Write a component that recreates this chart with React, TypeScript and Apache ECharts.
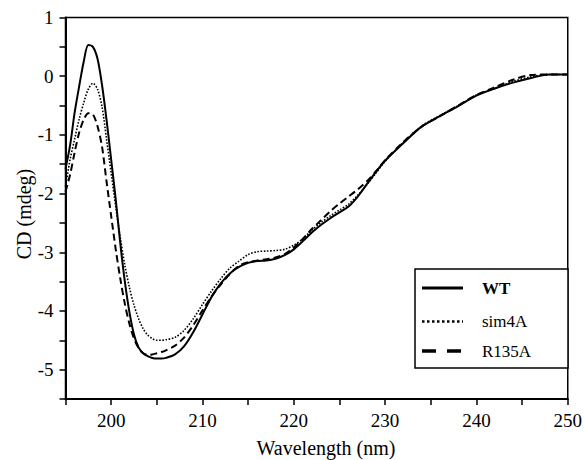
import React, { useEffect, useRef } from "react";
import * as echarts from "echarts";

const wavelengths = [
  195, 195.5, 196, 196.5, 197, 197.5, 198, 198.5, 199, 199.5, 200, 200.5, 201, 201.5,
  202, 202.5, 203, 203.5, 204, 204.5, 205, 205.5, 206, 207, 208, 209, 210, 211, 212,
  213, 214, 215, 216, 217, 218, 219, 220, 221, 222, 223, 224, 225, 226, 227, 228, 229,
  230, 232, 234, 236, 238, 240, 242, 244, 246, 248, 250,
];

const wtValues = [
  -1.58, -1.18, -0.62, -0.17, 0.25, 0.53, 0.5, 0.3, -0.15, -0.75, -1.42, -2.1, -2.85, -3.5,
  -4.02, -4.4, -4.62, -4.72, -4.77, -4.8, -4.81, -4.81, -4.8, -4.74, -4.6, -4.36, -4.06, -3.76, -3.53,
  -3.36, -3.25, -3.18, -3.15, -3.14, -3.11, -3.05, -2.95, -2.81, -2.66, -2.53, -2.42, -2.32, -2.22, -2.05, -1.84, -1.63,
  -1.44, -1.14, -0.86, -0.68, -0.51, -0.33, -0.21, -0.11, -0.03, 0.03, 0.03,
];

const sim4aValues = [
  -1.88, -1.42, -1.07, -0.73, -0.45, -0.22, -0.12, -0.22, -0.52, -1.08, -1.65, -2.22, -2.75, -3.22,
  -3.6, -3.9, -4.13, -4.3, -4.41, -4.47, -4.5, -4.5, -4.49, -4.45, -4.33, -4.13, -3.89, -3.66, -3.45,
  -3.27, -3.15, -3.04, -2.99, -2.98, -2.97, -2.95, -2.88, -2.77, -2.62, -2.49, -2.38, -2.28, -2.18, -2.03, -1.85, -1.65,
  -1.45, -1.13, -0.85, -0.67, -0.5, -0.32, -0.21, -0.09, -0.01, 0.03, 0.03,
];

const r135aValues = [
  -1.97, -1.68, -1.3, -0.96, -0.74, -0.63, -0.65, -0.85, -1.2, -1.8, -2.38, -2.95, -3.45, -3.88,
  -4.22, -4.47, -4.63, -4.72, -4.75, -4.74, -4.72, -4.7, -4.67, -4.59, -4.45, -4.24, -3.99, -3.75, -3.55,
  -3.37, -3.23, -3.17, -3.14, -3.12, -3.09, -3.03, -2.92, -2.77, -2.6, -2.45, -2.3, -2.17, -2.05, -1.93, -1.79, -1.62,
  -1.43, -1.12, -0.86, -0.68, -0.5, -0.32, -0.19, -0.06, 0.02, 0.03, 0.03,
];

const seriesNames = ["WT", "sim4A", "R135A"];
const xTitle = "Wavelength (nm)";
const yTitle = "CD (mdeg)";

export default function App() {
  const ref = useRef<HTMLDivElement>(null);

  useEffect(() => {
    if (!ref.current) return;
    const chart = echarts.init(ref.current, null, { renderer: "svg" });
    const font = "Liberation Serif";
    const toPairs = (vals: number[]) => wavelengths.map((w, i) => [w, vals[i]]);

    const legendRows = [
      { name: seriesNames[0], y: 288, dash: null as number[] | null, width: 3, weight: "bold" },
      { name: seriesNames[1], y: 321.5, dash: [2.5, 2.5], width: 2.5, weight: "normal" },
      { name: seriesNames[2], y: 351, dash: [14, 11], width: 3.5, weight: "normal" },
    ];

    const graphic: any[] = [
      {
        type: "rect",
        shape: { x: 415, y: 269, width: 153, height: 99 },
        style: { fill: "#fff", stroke: "#000", lineWidth: 1.5 },
        z: 100,
      },
      {
        type: "text",
        x: 326,
        y: 448,
        style: {
          text: xTitle,
          fontSize: 20,
          fontFamily: font,
          fill: "#000",
          align: "center",
          verticalAlign: "middle",
        },
      },
      {
        type: "text",
        x: 24,
        y: 214,
        rotation: Math.PI / 2,
        style: {
          text: yTitle,
          fontSize: 20,
          fontFamily: font,
          fill: "#000",
          align: "center",
          verticalAlign: "middle",
        },
      },
    ];
    legendRows.forEach((r) => {
      graphic.push({
        type: "line",
        shape: { x1: 422, y1: r.y, x2: 463, y2: r.y },
        style: { stroke: "#000", lineWidth: r.width, lineDash: r.dash || undefined },
        z: 101,
      });
      graphic.push({
        type: "text",
        x: 482,
        y: r.y,
        style: {
          text: r.name,
          fontSize: 17,
          fontWeight: r.weight,
          fontFamily: font,
          fill: "#000",
          align: "left",
          verticalAlign: "middle",
        },
        z: 101,
      });
    });

    const isInt = (v: number) => Math.abs(v - Math.round(v)) < 1e-6;

    chart.setOption({
      animation: false,
      backgroundColor: "#fff",
      grid: {
        left: 65.5,
        top: 17.5,
        right: 15,
        bottom: 61,
        show: true,
        borderColor: "#000",
        borderWidth: 1.5,
      },
      xAxis: {
        type: "value",
        min: 195,
        max: 250,
        interval: 5,
        axisLine: { show: true, onZero: false, lineStyle: { color: "#000", width: 2 } },
        axisTick: { show: true, length: 6, lineStyle: { color: "#000", width: 1.5 } },
        axisLabel: {
          color: "#000",
          fontSize: 19,
          fontFamily: font,
          margin: 12,
          formatter: (v: number) => (Math.round(v) % 10 === 0 ? String(Math.round(v)) : ""),
        },
        splitLine: { show: false },
      },
      yAxis: {
        type: "value",
        min: -5.5,
        max: 1,
        interval: 0.5,
        axisLine: { show: true, onZero: false, lineStyle: { color: "#000", width: 2 } },
        axisTick: { show: true, length: 6, lineStyle: { color: "#000", width: 1.5 } },
        axisLabel: {
          color: "#000",
          fontSize: 19,
          fontFamily: font,
          margin: 12,
          formatter: (v: number) => (isInt(v) && Math.round(v) > -6 ? String(Math.round(v)) : ""),
        },
        splitLine: { show: false },
      },
      series: [
        {
          name: seriesNames[2],
          type: "line",
          data: toPairs(r135aValues),
          symbol: "none",
          smooth: 0.3,
          lineStyle: { color: "#000", width: 2, type: [7, 4] },
        },
        {
          name: seriesNames[1],
          type: "line",
          data: toPairs(sim4aValues),
          symbol: "none",
          smooth: 0.3,
          lineStyle: { color: "#000", width: 1.6, type: [1.6, 1.6] },
        },
        {
          name: seriesNames[0],
          type: "line",
          data: toPairs(wtValues),
          symbol: "none",
          smooth: 0.3,
          lineStyle: { color: "#000", width: 2 },
        },
      ],
      graphic,
    });

    return () => chart.dispose();
  }, []);

  return (
    <div
      ref={ref}
      style={{ position: "absolute", left: 0, top: 0, width: 585, height: 460 }}
    />
  );
}
